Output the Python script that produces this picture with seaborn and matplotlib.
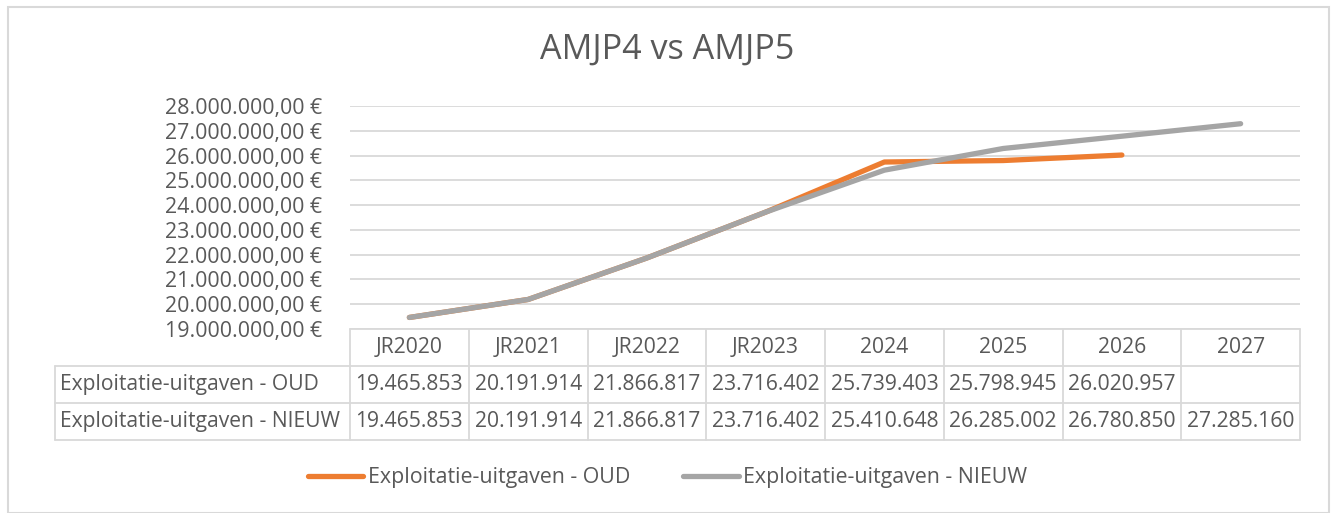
import matplotlib
matplotlib.use("Agg")
import matplotlib.pyplot as plt
import matplotlib.transforms as mtransforms
from matplotlib.patches import Rectangle
from matplotlib.ticker import FuncFormatter, MultipleLocator
import seaborn as sns
import pandas as pd
import numpy as np

# data
categories = ["JR2020", "JR2021", "JR2022", "JR2023", "2024", "2025", "2026", "2027"]
oud = [19465853, 20191914, 21866817, 23716402, 25739403, 25798945, 26020957, np.nan]
nieuw = [19465853, 20191914, 21866817, 23716402, 25410648, 26285002, 26780850, 27285160]
series_names = ["Exploitatie-uitgaven - OUD", "Exploitatie-uitgaven - NIEUW"]
colors = ["#ED7D31", "#A5A5A5"]
title = "AMJP4 vs AMJP5"

sns.set_theme(style="white")
plt.rcParams["font.family"] = ["Open Sans", "DejaVu Sans"]
text_color = "#595959"
grid_color = "#D9D9D9"

df = pd.DataFrame({
    "pos": list(range(len(categories))) * 2,
    "value": oud + nieuw,
    "series": [series_names[0]] * len(oud) + [series_names[1]] * len(nieuw),
})

fig = plt.figure(figsize=(13.35, 5.13), dpi=100)
ax = fig.add_axes([350 / 1335, 1 - 329 / 513, 950 / 1335, 223 / 513])

sns.lineplot(data=df, x="pos", y="value", hue="series", palette=colors,
             linewidth=3.8, ax=ax, legend=False, solid_capstyle="round")

ax.set_xlim(-0.5, len(categories) - 0.5)
ax.set_ylim(19_000_000, 28_000_000)
ax.yaxis.set_major_locator(MultipleLocator(1_000_000))


def euro(v, _):
    s = f"{v:,.2f}".replace(",", "X").replace(".", ",").replace("X", ".")
    return s + " €"


ax.yaxis.set_major_formatter(FuncFormatter(euro))
ax.tick_params(axis="y", length=0, pad=20, labelsize=15.4, labelcolor=text_color)
ax.set_xticks([])
ax.set_xlabel("")
ax.set_ylabel("")
ax.grid(axis="y", color=grid_color, linewidth=1.3)
for s in ax.spines.values():
    s.set_visible(False)

# data table beneath the plot
trans = mtransforms.blended_transform_factory(ax.transData, ax.transAxes)
row_h = 37 / 223
n = len(categories)
label_left = -0.5 - 295 * n / 950
lkw = dict(color=grid_color, linewidth=1.3, transform=trans, clip_on=False)

# horizontal lines
ax.plot([-0.5, n - 0.5], [0, 0], **lkw)
for r in range(1, 4):
    ax.plot([label_left, n - 0.5], [-r * row_h, -r * row_h], **lkw)
# vertical lines
for c in range(n + 1):
    ax.plot([c - 0.5, c - 0.5], [0, -3 * row_h], **lkw)
ax.plot([label_left, label_left], [-row_h, -3 * row_h], **lkw)

tkw = dict(transform=trans, fontsize=15.2, color=text_color, va="center", clip_on=False)
for i, cat in enumerate(categories):
    ax.text(i, -0.5 * row_h, cat, ha="center", **tkw)


def fmt_int(v):
    if v is None or (isinstance(v, float) and np.isnan(v)):
        return ""
    return f"{int(v):,}".replace(",", ".")


for r, (name, vals) in enumerate(zip(series_names, [oud, nieuw]), start=1):
    yc = -(r + 0.5) * row_h
    ax.text(label_left + 0.04, yc, name, ha="left", **tkw)
    for i, v in enumerate(vals):
        ax.text(i, yc, fmt_int(v), ha="center", **tkw)

fig.text(0.5, 1 - 50 / 513, title, ha="center", va="center", fontsize=24.6, color=text_color)

handles = [plt.Line2D([], [], color=c, linewidth=3.8, solid_capstyle="round") for c in colors]
fig.legend(handles, series_names, loc="center", bbox_to_anchor=(0.5, 1 - 478 / 513),
           ncol=2, frameon=False, fontsize=15.4, handlelength=2.6, handletextpad=0.2,
           columnspacing=2.5, labelcolor=text_color)

fig.patches.append(Rectangle((8 / 1335, 0), 1321 / 1335, 1 - 7 / 513, transform=fig.transFigure,
                             fill=False, edgecolor=grid_color, linewidth=1.5))

fig.savefig("out.png", dpi=100, facecolor="white")
